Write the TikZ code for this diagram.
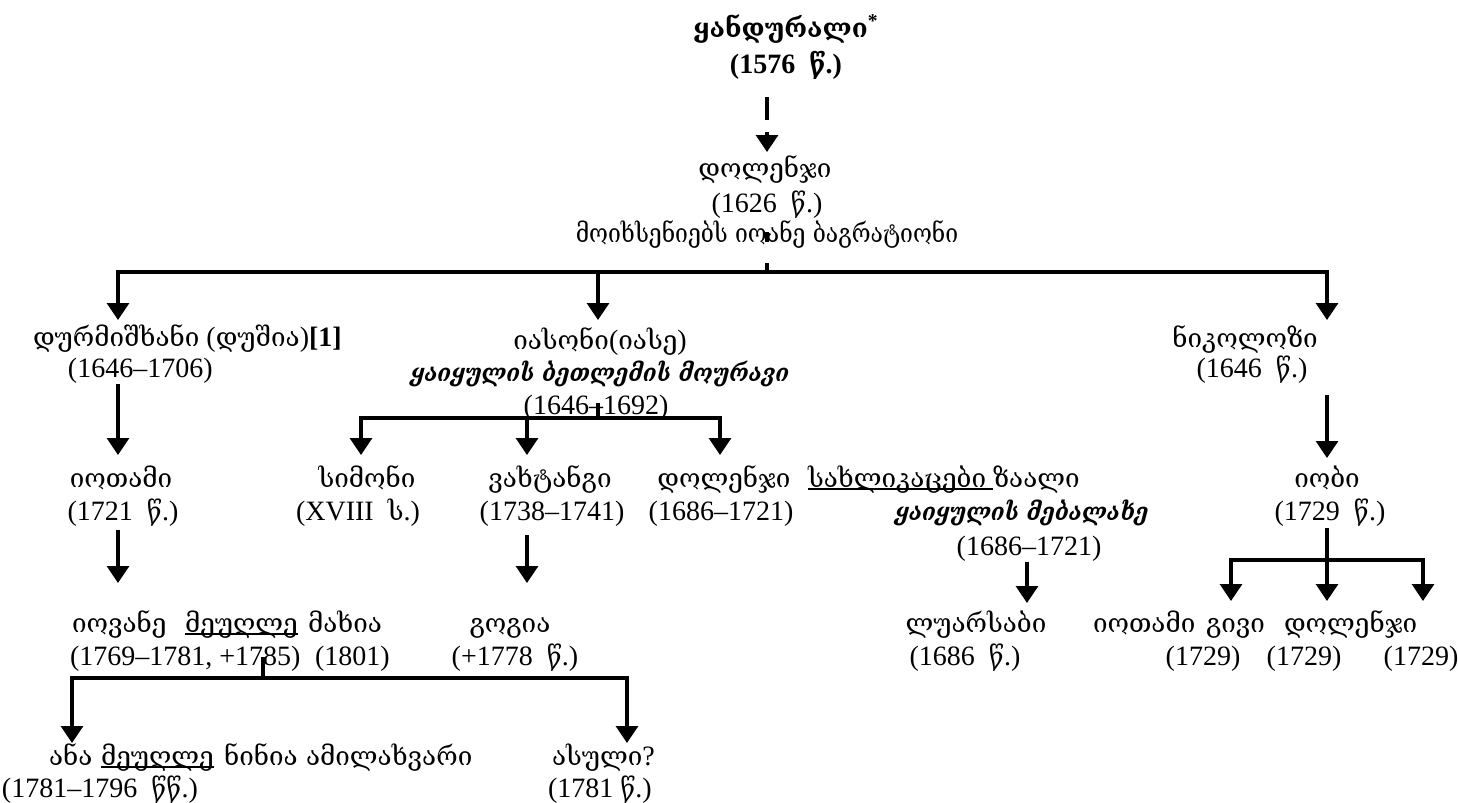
\documentclass[tikz,border=0pt]{standalone}
\usepackage{fontspec}
\setmainfont{Liberation Serif}
\newfontfamily\geo{DejaVu Serif}[Scale=0.93]
\newfontfamily\geobi{DejaVu Serif}[Scale=0.86]
\usetikzlibrary{arrows.meta}
\newcommand\kat[1]{{\geo #1}}
\newcommand\katbi[1]{\scalebox{0.92}[1]{\bfseries\itshape\geobi #1}}
\newsavebox\ulbox
\newcommand\ulk[1]{\sbox\ulbox{#1}\rlap{\rule[-1.5pt]{\wd\ulbox}{0.9pt}}\usebox\ulbox}
\tikzset{
  ln/.style={line width=1.6pt},
  arr/.style={ln,-{Triangle[width=11pt,length=8.5pt]}},
  dasharr/.style={arr,dash pattern=on 11.5pt off 6pt},
  txt/.style={inner sep=0pt,outer sep=0pt,font=\fontsize{14pt}{16pt}\selectfont},
  c/.style={txt,anchor=base},
  l/.style={txt,anchor=base west}
}
\begin{document}
\begin{tikzpicture}[x=0.5pt,y=-0.5pt]
\useasboundingbox (0,0) rectangle (1458,803);
% ---- texts
\node[c] (kand) at (786,38) {\bfseries\kat{ყანდურალი}\textsuperscript{*}};
\node[c] (kandd) at (786,73) {\bfseries (1576~~\kat{წ}.)};
\node[c] (dol1) at (765,177) {\kat{დოლენჯი}};
\node[c] (dol1d) at (767,212) {(1626~~\kat{წ}.)};
\node[c] (dol1n) at (767,242) {\scalebox{0.88}[1]{\kat{მოიხსენიებს იოანე ბაგრატიონი}}};
\node[l] (durm) at (33,346) {\kat{დურმიშხანი} (\kat{დუშია})\textbf{[1]}};
\node[l] (durmd) at (68,377) {(1646–1706)};
\node[c] (iason) at (600,349) {\kat{იასონი}(\kat{იასე})};
\node[c] (iasont) at (600,381) {\katbi{ყაიყულის ბეთლემის მოურავი}};
\node[c] (iasond) at (596,414) {(1646–1692)};
\node[c] (nikol) at (1245,347) {\kat{ნიკოლოზი}};
\node[c] (nikold) at (1252,377) {(1646~~\kat{წ}.)};
\node[c] (iot1) at (121,487) {\kat{იოთამი}};
\node[c] (iot1d) at (123,520) {(1721~~\kat{წ}.)};
\node[c] (simon) at (367,487) {\kat{სიმონი}};
\node[c] (simond) at (358,520) {(XVIII~~\kat{ს}.)};
\node[c] (vakht) at (550,487) {\kat{ვახტანგი}};
\node[c] (vakhtd) at (552,520) {(1738–1741)};
\node[c] (dol2) at (724,487) {\kat{დოლენჯი}};
\node[c] (dol2d) at (721,520) {(1686–1721)};
\node[l] (zaal) at (808,487) {\ulk{\kat{სახლიკაცები}\ }\kat{ზაალი}};
\node[c] (zaalt) at (1022,520) {\katbi{ყაიყულის მებალახე}};
\node[c] (zaald) at (1029,555) {(1686–1721)};
\node[c] (iob) at (1327,487) {\kat{იობი}};
\node[c] (iobd) at (1330,520) {(1729~~\kat{წ}.)};
\node[l] (iov) at (72,632) {\kat{იოვანე}};
\node[l] (iovsp) at (185,632) {\ulk{\kat{მეუღლე}}};
\node[l] (makh) at (308,632) {\kat{მახია}};
\node[l] (iovd) at (70,665) {(1769–1781,~+1785)};
\node[l] (makhd) at (315,665) {(1801)};
\node[c] (gogia) at (510,632) {\kat{გოგია}};
\node[c] (gogiad) at (515,665) {(+1778~~\kat{წ}.)};
\node[c] (luars) at (976,632) {\kat{ლუარსაბი}};
\node[c] (luarsd) at (965,665) {(1686~~\kat{წ}.)};
\node[l] (iot2) at (1093,632) {\kat{იოთამი}};
\node[l] (givi) at (1206,632) {\kat{გივი}};
\node[l] (dol3) at (1284,632) {\kat{დოლენჯი}};
\node[c] (iot2d) at (1203,665) {(1729)};
\node[c] (givid) at (1304,665) {(1729)};
\node[c] (dol3d) at (1421,665) {(1729)};
\node[l] (ana) at (49,765) {\kat{ანა}};
\node[l] (anasp) at (101,765) {\ulk{\kat{მეუღლე}}};
\node[l] (ninia) at (224,765) {\kat{ნინია ამილახვარი}};
\node[l] (anad) at (2,797) {(1781–1796~~\kat{წწ}.)};
\node[l] (asuli) at (552,765) {\kat{ასული}?};
\node[l] (asulid) at (548,797) {(1781~\kat{წ}.)};
% ---- connector points
\coordinate (d0) at (767,97);
\coordinate (d1) at (767,152);
\coordinate (d2) at (767,232);
\coordinate (j1) at (767,272);
\coordinate (tdurm) at (118,320);
\coordinate (tiason) at (598,320);
\coordinate (tnikol) at (1327,320);
\coordinate (sdurm) at (118,384);
\coordinate (tiot1) at (118,455);
\coordinate (siason) at (598,403);
\coordinate (j2) at (598,418);
\coordinate (tsimon) at (361,455);
\coordinate (tvakht) at (527,455);
\coordinate (tdol2) at (720,455);
\coordinate (snikol) at (1327,395);
\coordinate (tiob) at (1327,458);
\coordinate (siot1) at (118,530);
\coordinate (tiov) at (118,583);
\coordinate (svakht) at (527,535);
\coordinate (tgogia) at (527,583);
\coordinate (szaal) at (1027,562);
\coordinate (tluars) at (1027,603);
\coordinate (siob) at (1327,528);
\coordinate (j3) at (1327,560);
\coordinate (tiot2) at (1231,601);
\coordinate (tgivi) at (1327,601);
\coordinate (tdol3) at (1423,601);
\coordinate (siov) at (263,657);
\coordinate (j4) at (263,678);
\coordinate (tana) at (72,743);
\coordinate (tasuli) at (627,743);
% ---- connectors
\draw[dasharr] (d0) -- (d1);
\draw[ln,dash pattern=on 5pt off 10.5pt] (d2) -- (j1);
\draw[arr] (j1) -| (tdurm);
\draw[arr] (j1) -| (tiason);
\draw[arr] (j1) -| (tnikol);
\draw[arr] (sdurm) -- (tiot1);
\draw[ln] (siason) -- (j2);
\draw[arr] (j2) -| (tsimon);
\draw[arr] (j2) -| (tvakht);
\draw[arr] (j2) -| (tdol2);
\draw[arr] (snikol) -- (tiob);
\draw[arr] (siot1) -- (tiov);
\draw[arr] (svakht) -- (tgogia);
\draw[arr] (szaal) -- (tluars);
\draw[ln] (siob) -- (j3);
\draw[arr] (j3) -| (tiot2);
\draw[arr] (j3) -- (tgivi);
\draw[arr] (j3) -| (tdol3);
\draw[ln] (siov) -- (j4);
\draw[arr] (j4) -| (tana);
\draw[arr] (j4) -| (tasuli);
\end{tikzpicture}
\end{document}
